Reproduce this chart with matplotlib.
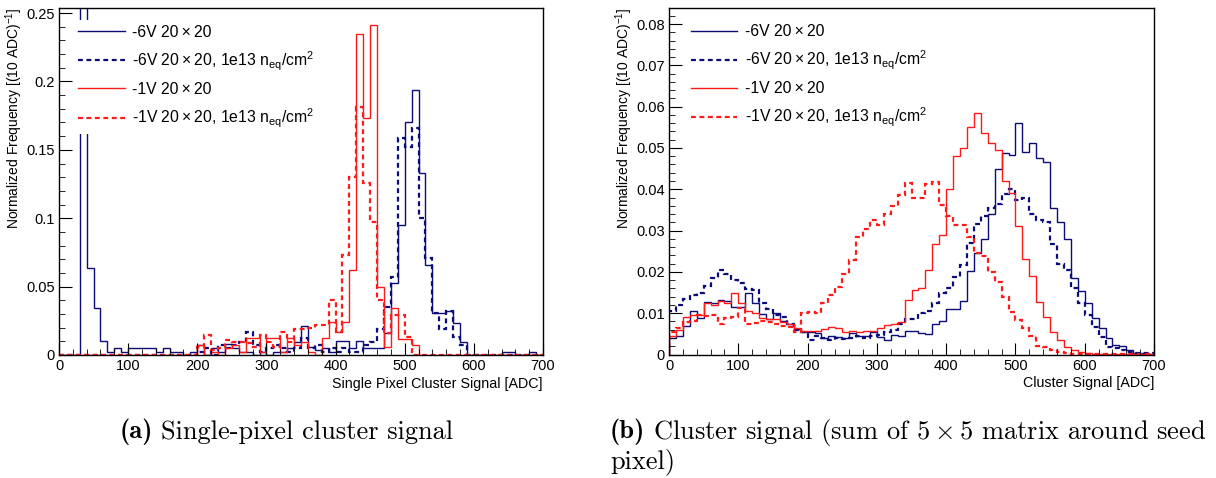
import numpy as np
import matplotlib.pyplot as plt
from matplotlib.ticker import MultipleLocator, FuncFormatter

plt.rcParams['font.family'] = ['Liberation Sans', 'DejaVu Sans']
plt.rcParams['mathtext.fontset'] = 'custom'
plt.rcParams['mathtext.rm'] = 'Liberation Sans'
plt.rcParams['mathtext.it'] = 'Liberation Sans:italic'
plt.rcParams['mathtext.bf'] = 'Liberation Sans:bold'

# bin edges, 10 ADC wide, 0..700
edges = np.arange(0, 710, 10)

labels = ['-6V 20\u2009×\u200920',
          '-6V 20\u2009×\u200920, 1e13 n$_{\\mathrm{eq}}$/cm$^{2}$',
          '-1V 20\u2009×\u200920',
          '-1V 20\u2009×\u200920, 1e13 n$_{\\mathrm{eq}}$/cm$^{2}$']

# (a) single pixel cluster signal
single_6v = [0, 0, 0, 0.42, 0.0634, 0.0341, 0.0105, 0.0022, 0.0049, 0.0022,
             0.0054, 0.0054, 0.0054, 0.0054, 0.0022, 0.0054, 0.0022, 0.0022, 0.0, 0.0022,
             0.0073, 0.0, 0.0049, 0.0024, 0.008, 0.0049, 0.0024, 0.0024, 0.0, 0.0024,
             0.0, 0.0024, 0.0024, 0.0049, 0.0098, 0.021, 0.006, 0.0037, 0.0049, 0.0024,
             0.0105, 0.0105, 0.0049, 0.0105, 0.0049, 0.0049, 0.0049, 0.0158, 0.053, 0.095,
             0.17, 0.194, 0.133, 0.066, 0.031, 0.031, 0.032, 0.0236, 0.0097, 0,
             0, 0, 0, 0, 0.0024, 0.0024, 0, 0, 0.0024, 0]
single_6v_irr = [0] * 20 + [
             0.0024, 0.0049, 0.0, 0.0073, 0.0049, 0.0073, 0.0098, 0.0171, 0.0073, 0.0024,
             0.0049, 0.0073, 0.0049, 0.0024, 0.0049, 0.0122, 0.0049, 0.0073, 0.0024, 0.0049,
             0.0024, 0.0049, 0.0024, 0.0024, 0.0073, 0.0098, 0.019, 0.035, 0.057, 0.159,
             0.152, 0.166, 0.10, 0.0707, 0.031, 0.019, 0.032, 0.0134, 0.0073, 0] + [0] * 10
single_1v = [0] * 20 + [
             0.0073, 0.0, 0.0024, 0.0, 0.0049, 0.0073, 0.0024, 0.0122, 0.0122, 0.0024,
             0.0122, 0.0122, 0.0024, 0.0122, 0.0073, 0.0098, 0.0024, 0.0, 0.0122, 0.0244,
             0.0171, 0.0244, 0.062, 0.235, 0.173, 0.241, 0.0495, 0.006, 0.034, 0.012,
             0.012, 0.0073] + [0] * 18
single_1v_irr = [0] * 20 + [
             0.006, 0.0146, 0.0037, 0.0049, 0.011, 0.0098, 0.0098, 0.0085, 0.006, 0.0146,
             0.0098, 0.006, 0.017, 0.0098, 0.019, 0.019, 0.0195, 0.022, 0.022, 0.040,
             0.017, 0.073, 0.13, 0.1815, 0.1255, 0.0975, 0.040, 0.016, 0.029, 0.029,
             0.0134] + [0] * 19

# (b) cluster signal, 5x5 sum
cluster_6v = [0.004, 0.0045, 0.007, 0.0105, 0.0088, 0.0128, 0.0125, 0.0133, 0.013, 0.0115,
              0.0116, 0.0148, 0.0125, 0.0098, 0.0085, 0.0100, 0.008, 0.0075, 0.0062, 0.0055,
              0.0055, 0.0051, 0.0039, 0.0045, 0.0042, 0.0040, 0.0051, 0.0045, 0.0045, 0.0055,
              0.0043, 0.0035, 0.0048, 0.0045, 0.0058, 0.0058, 0.0053, 0.0050, 0.0075, 0.008,
              0.011, 0.011, 0.013, 0.0203, 0.0245, 0.028, 0.034, 0.0448, 0.0488, 0.0484,
              0.056, 0.049, 0.0512, 0.0475, 0.0466, 0.0355, 0.032, 0.028, 0.0184, 0.0154,
              0.0124, 0.0088, 0.0063, 0.0039, 0.0023, 0.002, 0.0011, 0.0003, 0.0003, 0.0002]
cluster_6v_irr = [0.0105, 0.012, 0.0135, 0.0145, 0.015, 0.0165, 0.0185, 0.0205, 0.0195, 0.018,
                  0.0172, 0.0158, 0.0155, 0.0125, 0.011, 0.0095, 0.009, 0.0075, 0.006, 0.0055,
                  0.0035, 0.0045, 0.004, 0.0035, 0.004, 0.0037, 0.004, 0.0045, 0.004, 0.0045,
                  0.0048, 0.0055, 0.006, 0.0075, 0.0087, 0.0087, 0.010, 0.0105, 0.0124, 0.015,
                  0.016, 0.0188, 0.0216, 0.027, 0.0317, 0.0335, 0.0354, 0.0364, 0.0388, 0.040,
                  0.0374, 0.038, 0.034, 0.0325, 0.032, 0.0267, 0.022, 0.0205, 0.016, 0.0124,
                  0.0096, 0.0067, 0.0043, 0.0019, 0.0015, 0.0011, 0.0007, 0.0003, 0.0003, 0.0003]
cluster_1v = [0.0045, 0.006, 0.009, 0.0095, 0.0095, 0.0125, 0.012, 0.013, 0.0125, 0.0148,
              0.0125, 0.0105, 0.0100, 0.0088, 0.0087, 0.0085, 0.0078, 0.0075, 0.0065, 0.0058,
              0.0058, 0.0057, 0.0062, 0.0067, 0.0063, 0.0055, 0.0057, 0.0055, 0.0056, 0.0057,
              0.0065, 0.0072, 0.0075, 0.0078, 0.0132, 0.0155, 0.0162, 0.0205, 0.0268, 0.029,
              0.040, 0.048, 0.050, 0.055, 0.0585, 0.0537, 0.0512, 0.0495, 0.042, 0.039,
              0.031, 0.023, 0.019, 0.0128, 0.009, 0.0055, 0.0035, 0.0019, 0.0011, 0.0005,
              0.0003, 0.0002, 0.0002, 0.0001, 0.0001, 0.0001, 0.0001, 0.0001, 0.0001, 0.0001]
cluster_1v_irr = [0.0055, 0.0065, 0.0078, 0.008, 0.0095, 0.0092, 0.0095, 0.0074, 0.0088, 0.009,
                  0.0112, 0.0074, 0.0077, 0.0080, 0.0079, 0.0074, 0.0069, 0.0067, 0.0055, 0.0100,
                  0.0102, 0.0100, 0.0124, 0.0144, 0.0164, 0.0195, 0.0229, 0.0285, 0.0305, 0.0325,
                  0.0313, 0.0340, 0.0359, 0.0385, 0.0416, 0.0380, 0.0380, 0.0412, 0.0418, 0.0362,
                  0.0335, 0.0313, 0.0313, 0.0285, 0.0245, 0.0238, 0.0200, 0.0176, 0.0140, 0.0103,
                  0.0083, 0.0063, 0.0045, 0.0020, 0.0019, 0.0010, 0.0006, 0.0004, 0.0002, 0.0002,
                  0.0002, 0.0001, 0.0001, 0.0001, 0.0001, 0.0001, 0.0001, 0.0001, 0.0001, 0.0001]

navy = '#0c0c78'
red = '#ff1a1a'
styles = [(navy, '-', 1.0), (navy, (0, (2.2, 1.6)), 1.6),
          (red, '-', 1.0), (red, (0, (2.2, 1.6)), 1.6)]

W, H = 1216, 478
fig = plt.figure(figsize=(W / 100, H / 100), dpi=100)
ax1 = fig.add_axes([59 / W, 123 / H, 484 / W, 347 / H])
ax2 = fig.add_axes([669 / W, 123.5 / H, 485 / W, 347 / H])

fmt = FuncFormatter(lambda v, p: '%g' % round(v, 4))


def draw(ax, series, ymax, ymajor, yminor, xtitle, leg_x):
    for vals, (c, ls, lw), lab in zip(series, styles, labels):
        ax.stairs(vals, edges, color=c, linestyle=ls, linewidth=lw, label=lab)
    ax.set_xlim(0, 700)
    ax.set_ylim(0, ymax)
    ax.xaxis.set_major_locator(MultipleLocator(100))
    ax.xaxis.set_minor_locator(MultipleLocator(20))
    ax.yaxis.set_major_locator(MultipleLocator(ymajor))
    ax.yaxis.set_minor_locator(MultipleLocator(yminor))
    ax.yaxis.set_major_formatter(fmt)
    ax.tick_params(which='both', direction='in', labelsize=10.5, pad=3,
                   top=False, right=False)
    ax.tick_params(which='major', length=9)
    ax.tick_params(which='minor', length=4.5)
    for s in ax.spines.values():
        s.set_linewidth(1.0)
    ax.set_ylabel('Normalized Frequency [(10 ADC)$^{-1}$]', fontsize=10, loc='top')
    ax.yaxis.set_label_coords(-0.070, 1.0)
    ax.set_xlabel(xtitle, fontsize=10.3, loc='right')
    ax.xaxis.set_label_coords(1.0, -0.063)
    leg = ax.legend(loc='upper left', bbox_to_anchor=(leg_x, 0.965), fontsize=11.3,
                    frameon=True, fancybox=False, framealpha=1, edgecolor='none',
                    facecolor='white', handlelength=2.95, handletextpad=0.5,
                    labelspacing=0.6, borderpad=0.3, borderaxespad=0)
    leg.set_zorder(5)


draw(ax1, [single_6v, single_6v_irr, single_1v, single_1v_irr], 0.2537, 0.05, 0.01,
     'Single Pixel Cluster Signal [ADC]', 0.030)
draw(ax2, [cluster_6v, cluster_6v_irr, cluster_1v, cluster_1v_irr], 0.084, 0.01, 0.002,
     'Cluster Signal [ADC]', 0.036)

# sub-figure captions
renderer = fig.canvas.get_renderer()
captions = [(120, 432, '(a)', 'Single-pixel cluster signal'),
            (610, 432, '(b)', r'Cluster signal (sum of $5\times5$ matrix around seed')]
for cx, cy, tag, body in captions:
    t = fig.text(cx / W, 1 - cy / H, tag, family='cmb10', fontsize=19,
                 va='center', ha='left')
    bb = t.get_window_extent(renderer)
    fig.text((bb.x1 + 8) / W, 1 - cy / H, body, family=['cmr10', 'DejaVu Serif'],
             math_fontfamily='cm', fontsize=19, va='center', ha='left')
fig.text(610 / W, 1 - 462 / H, 'pixel)', family=['cmr10', 'DejaVu Serif'],
         fontsize=19, va='center', ha='left')

fig.savefig('out.png', dpi=100)
